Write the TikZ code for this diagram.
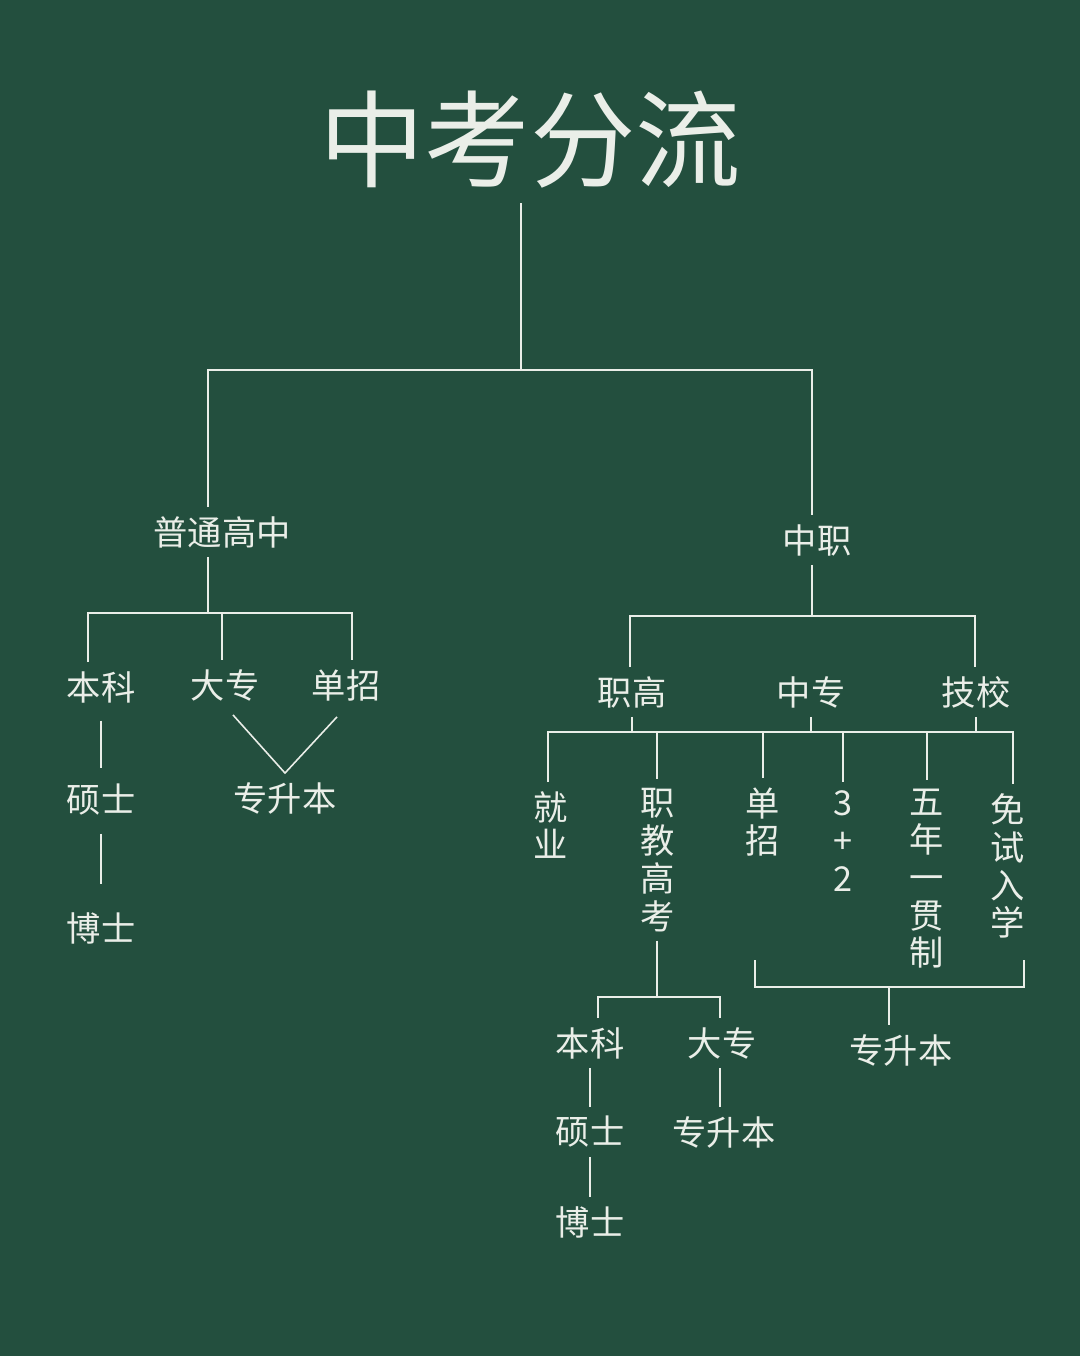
\documentclass[tikz,border=0pt]{standalone}
\usepackage{fontspec}
\setmainfont{Noto Sans CJK SC}
\usetikzlibrary{calc}
\definecolor{board}{RGB}{35,79,62}
\definecolor{chalk}{RGB}{234,238,232}
\tikzset{
  lbl/.style={text=chalk,inner sep=5pt,align=center,
    font=\fontsize{19.5}{21.5}\selectfont},
  bigtitle/.style={text=chalk,inner sep=5pt,font=\fontsize{60}{60}\selectfont},
  link/.style={draw=chalk,line width=0.9pt},
}

\begin{document}
\begin{tikzpicture}[x=0.02cm,y=-0.02cm]
  \fill[board] (0,0) rectangle (1080,1356);
  \useasboundingbox (0,0) rectangle (1080,1356);

  % 标题与第一层
  \node[bigtitle] (title) at (530,140) {中考分流};
  \node[lbl] (gz) at (222,532) {普通高中};
  \node[lbl] (zz) at (817,540) {中职};
  \coordinate (k0) at (521,370);
  \coordinate (kL) at (208,370);
  \coordinate (kR) at (812,370);
  \draw[link,shorten <=3pt] (title.south -| k0) -- (k0);
  \draw[link] (gz.north -| kL) -- (kL) -- (kR) -- (zz.north -| kR);

  % 普通高中 这一支
  \node[lbl] (bk1) at (101,687) {本科};
  \node[lbl] (dz1) at (225,685) {大专};
  \node[lbl] (dzh1) at (346,685) {单招};
  \node[lbl] (ss1) at (101,800) {硕士};
  \node[lbl] (bs1) at (101,928) {博士};
  \node[lbl] (zsb1) at (285,798) {专升本};
  \coordinate (g0) at (208,613);
  \coordinate (gA) at (88,613);
  \coordinate (gB) at (222,613);
  \coordinate (gC) at (352,613);
  \draw[link] (gz.south -| g0) -- (g0);
  \draw[link] (bk1.north -| gA) -- (gA) -- (gC) -- (dzh1.north -| gC);
  \draw[link] (gB) -- (dz1.north -| gB);
  \draw[link,shorten <=5pt,shorten >=4pt] (bk1) -- (ss1);
  \draw[link,shorten <=5pt,shorten >=11pt] (ss1) -- (bs1);
  \draw[link] ($(dz1.south)+(8,5)$) -- (zsb1.north) -- ($(dzh1.south)+(-9,7)$);

  % 中职 这一支
  \node[lbl] (zg) at (632,692) {职高};
  \node[lbl] (zzh) at (811,692) {中专};
  \node[lbl] (jx) at (976,692) {技校};
  \coordinate (z0) at (812,616);
  \coordinate (zA) at (630,616);
  \coordinate (zC) at (975,616);
  \draw[link] (zz.south -| z0) -- (z0);
  \draw[link] (zg.north -| zA) -- (zA) -- (zC) -- (jx.north -| zC);

  % 竖排的出路
  \node[lbl] (jy) at (551,825) {就\\业};
  \node[lbl] (zj) at (658,860) {职\\教\\高\\考};
  \node[lbl] (dzh2) at (763,822) {单\\招};
  \node[lbl] (sj) at (843,841) {3\\+\\2};
  \node[lbl] (wn) at (927,879) {五\\年\\一\\贯\\制};
  \node[lbl] (mr) at (1008,866) {免\\试\\入\\学};
  \coordinate (r0) at (548,732);
  \coordinate (r1) at (657,732);
  \coordinate (r2) at (763,732);
  \coordinate (r3) at (843,732);
  \coordinate (r4) at (927,732);
  \coordinate (r5) at (1013,732);
  \foreach \n in {zg,zzh,jx}
    \draw[link] (\n.south) -- (\n.south |- r0);
  \draw[link] (jy.north -| r0) -- (r0) -- (r5) -- (mr.north -| r5);
  \draw[link] (r1) -- (zj.north -| r1);
  \draw[link] (r2) -- (dzh2.north -| r2);
  \draw[link] (r3) -- (sj.north -| r3);
  \draw[link] (r4) -- (wn.north -| r4);

  % 职教高考 之后
  \node[lbl] (bk2) at (590,1043) {本科};
  \node[lbl] (dz2) at (722,1043) {大专};
  \node[lbl] (ss2) at (590,1132) {硕士};
  \node[lbl] (bs2) at (590,1222) {博士};
  \node[lbl] (zsb2) at (724,1132) {专升本};
  \coordinate (b0) at (657,997);
  \coordinate (bA) at (598,997);
  \coordinate (bB) at (720,997);
  \draw[link] (zj.south -| b0) -- (b0);
  \draw[link] (bk2.north -| bA) -- (bA) -- (bB) -- (dz2.north -| bB);
  \draw[link] (bk2) -- (ss2);
  \draw[link] (ss2) -- (bs2);
  \draw[link] (dz2.south -| bB) -- (zsb2.north -| bB);

  % 右下的括号
  \node[lbl] (zsb3) at (901,1050) {专升本};
  \coordinate (c0) at (889,987);
  \coordinate (cA) at (755,960);
  \coordinate (cB) at (1024,960);
  \draw[link] (cA) |- (c0) -| (cB);
  \draw[link] (c0) -- (zsb3.north -| c0);
\end{tikzpicture}
\end{document}
